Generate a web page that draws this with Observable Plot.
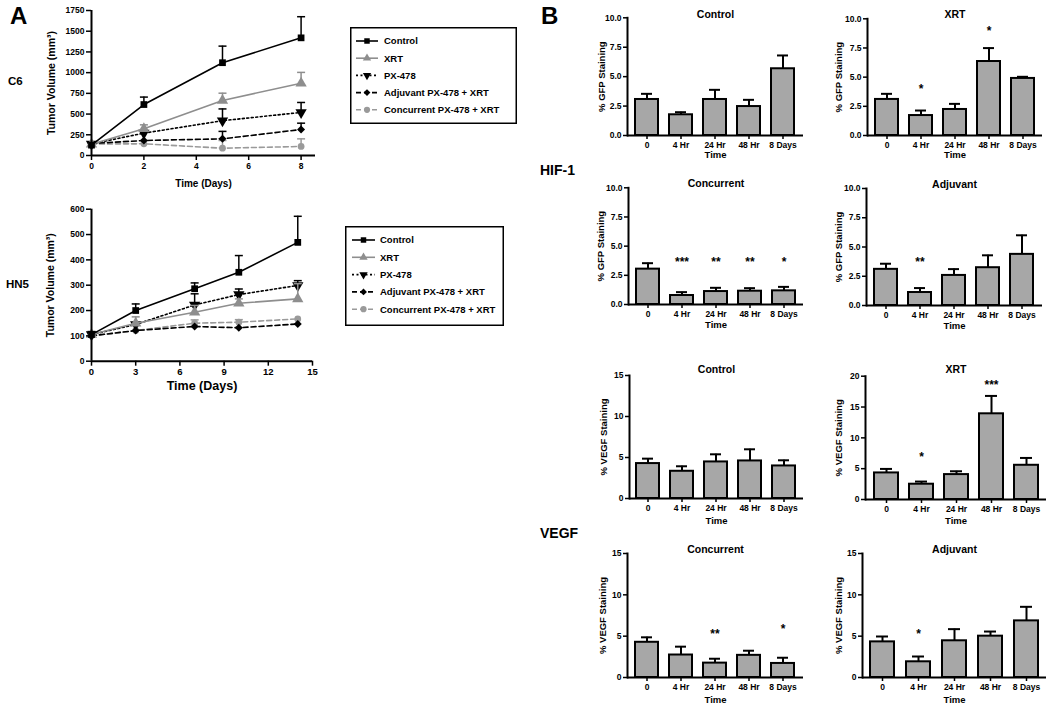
<!DOCTYPE html>
<html><head><meta charset="utf-8">
<script src="https://cdn.jsdelivr.net/npm/d3@7"></script>
<script src="https://cdn.jsdelivr.net/npm/@observablehq/plot@0.6"></script>
<style>
body{margin:0;background:#fff;}
#fig{position:relative;width:1050px;height:711px;overflow:hidden;background:#fff;font-family:"Liberation Sans",Arial,sans-serif;font-weight:bold;color:#000;}
.lbl{position:absolute;font-weight:bold;white-space:nowrap;line-height:1;}
</style></head><body><div id="fig"></div>
<script>
// ---------------- DATA ----------------
// Panel A – tumour growth curves
const seriesNames = ["Control", "XRT", "PX-478", "Adjuvant PX-478 + XRT", "Concurrent PX-478 + XRT"];

const c6Days = [0, 2, 5, 8];
const c6Control    = [125, 615, 1120, 1420];
const c6ControlSem = [0, 90, 200, 255];
const c6Xrt        = [135, 322, 664, 873];
const c6XrtSem     = [0, 48, 88, 130];
const c6Px         = [140, 270, 420, 520];
const c6PxSem      = [0, 0, 142, 120];
const c6Adj        = [145, 181, 201, 314];
const c6AdjSem     = [0, 0, 90, 76];
const c6Conc       = [140, 141, 88, 109];
const c6ConcSem    = [0, 0, 93, 92];

const hn5Days = [0, 3, 7, 10, 14];
const hn5Control    = [105, 200, 286, 351, 469];
const hn5ControlSem = [12, 26, 23, 66, 103];
const hn5Xrt        = [105, 150, 193, 229, 246];
const hn5XrtSem     = [0, 25, 27, 17, 60];
const hn5Px         = [105, 145, 222, 263, 299];
const hn5PxSem      = [0, 0, 44, 22, 19];
const hn5Adj        = [100, 121, 137, 132, 147];
const hn5AdjSem     = [0, 0, 0, 0, 0];
const hn5Conc       = [100, 121, 150, 154, 167];
const hn5ConcSem    = [0, 0, 13, 10, 0];

// Panel B – staining bar charts
const timeLabels = ["0", "4 Hr", "24 Hr", "48 Hr", "8 Days"];

const hifControl    = [3.06, 1.76, 3.06, 2.46, 5.67];
const hifControlSem = [0.48, 0.22, 0.82, 0.57, 1.13];
const hifControlStars = ["", "", "", "", ""];
const hifControlStarY = [null, null, null, null, null];

const hifXrt    = [3.09, 1.71, 2.23, 6.34, 4.89];
const hifXrtSem = [0.48, 0.43, 0.48, 1.15, 0.14];
const hifXrtStars = ["", "*", "", "*", ""];
const hifXrtStarY = [null, 4.2, null, 9.2, null];

const hifConc    = [3.03, 0.77, 1.11, 1.14, 1.17];
const hifConcSem = [0.51, 0.29, 0.32, 0.26, 0.34];
const hifConcStars = ["", "***", "**", "**", "*"];
const hifConcStarY = [null, 3.9, 3.9, 3.9, 3.9];

const hifAdj    = [3.09, 1.11, 2.57, 3.23, 4.37];
const hifAdjSem = [0.48, 0.38, 0.54, 1.06, 1.63];
const hifAdjStars = ["", "**", "", "", ""];
const hifAdjStarY = [null, 4.0, null, null, null];

const vegfControl    = [4.26, 3.32, 4.46, 4.58, 3.97];
const vegfControlSem = [0.60, 0.61, 0.93, 1.42, 0.69];
const vegfControlStars = ["", "", "", "", ""];
const vegfControlStarY = [null, null, null, null, null];

const vegfXrt    = [4.31, 2.48, 4.04, 13.9, 5.55];
const vegfXrtSem = [0.65, 0.43, 0.54, 2.9, 1.19];
const vegfXrtStars = ["", "*", "", "***", ""];
const vegfXrtStarY = [null, 7.4, null, 19.0, null];

const vegfConc    = [4.26, 2.72, 1.74, 2.68, 1.70];
const vegfConcSem = [0.60, 1.01, 0.53, 0.56, 0.69];
const vegfConcStars = ["", "", "**", "", "*"];
const vegfConcStarY = [null, null, 5.6, null, 6.2];

const vegfAdj    = [4.31, 1.90, 4.44, 5.00, 6.85];
const vegfAdjSem = [0.65, 0.64, 1.41, 0.56, 1.70];
const vegfAdjStars = ["", "*", "", "", ""];
const vegfAdjStarY = [null, 5.56, null, null, null];

// ---------------- STYLES ----------------
const FONT = "'Liberation Sans', Arial, Helvetica, sans-serif";
const GREY = "#8e8e8e";
const BAR_FILL = "#a7a7a7";
const seriesStyle = [
  {color: "#000", dash: null,  symbol: "square",   r: 3.8, rotate: 0,   legendSym: d3.symbolSquare,   legendRot: 0},
  {color: GREY,   dash: null,  symbol: "triangle", r: 4.2, rotate: 0,   legendSym: d3.symbolTriangle, legendRot: 0},
  {color: "#000", dash: "2,2.5", symbol: "triangle", r: 4.2, rotate: 180, legendSym: d3.symbolTriangle, legendRot: 180},
  {color: "#000", dash: "5,3", symbol: "diamond2", r: 3.6, rotate: 0,   legendSym: d3.symbolDiamond2, legendRot: 0},
  {color: "#9a9a9a", dash: "5,3", symbol: "circle", r: 3.4, rotate: 0,  legendSym: d3.symbolCircle,   legendRot: 0}
];
const capSymbol = {draw(ctx, size) { const w = Math.sqrt(size / Math.PI); ctx.moveTo(-w, 0); ctx.lineTo(w, 0); }};

const fig = document.getElementById("fig");
function place(el, left, top) {
  el.style.position = "absolute";
  el.style.left = left + "px";
  el.style.top = top + "px";
  el.style.overflow = "visible";
  fig.appendChild(el);
}
function label(text, left, top, size) {
  const d = document.createElement("div");
  d.className = "lbl";
  d.textContent = text;
  d.style.left = left + "px";
  d.style.top = top + "px";
  d.style.fontSize = size + "px";
  fig.appendChild(d);
}
const svgStyle = `font-family:${FONT};font-weight:bold;overflow:visible;background:transparent;`;

// ---------------- LINE CHARTS ----------------
function lineChart(o) {
  const mL = o.ax0 - o.left, mR = o.left + o.width - o.ax1;
  const mT = o.yTop - o.top, mB = o.top + o.height - o.yBot;
  const marks = [];
  o.values.forEach((vals, k) => {
    const s = seriesStyle[k];
    const rows = o.days.map((d, i) => ({d, v: vals[i], hi: vals[i] + o.sems[k][i], sem: o.sems[k][i]}));
    const err = rows.filter(r => r.sem > 0);
    marks.push(Plot.ruleX(err, {x: "d", y1: "v", y2: "hi", stroke: s.color, strokeWidth: 1.5}));
    marks.push(Plot.dot(err, {x: "d", y: "hi", symbol: capSymbol, r: 4, stroke: s.color, strokeWidth: 1.5, fill: "none"}));
    marks.push(Plot.line(rows, {x: "d", y: "v", stroke: s.color, strokeWidth: 1.6, strokeDasharray: s.dash}));
    marks.push(Plot.dot(rows, {x: "d", y: "v", symbol: s.symbol, r: s.r, fill: s.color, stroke: "none", rotate: s.rotate}));
  });
  marks.reverse();
  marks.push(
    Plot.ruleX([0], {strokeWidth: 2}),
    Plot.ruleY([0], {strokeWidth: 2}),
    Plot.axisX({ticks: o.xTicks, tickSize: 5, tickPadding: 2, strokeWidth: 1.5, fontSize: o.xTickFont, tickFormat: "d", label: null}),
    Plot.axisY({ticks: o.yTicks, tickSize: 5, tickPadding: 2, strokeWidth: 1.5, fontSize: o.yTickFont, tickFormat: "d", label: null}),
    Plot.text([o.xTitle], {text: d => d, frameAnchor: "bottom", textAnchor: "middle", dy: o.xTitleDy, fontSize: o.xTitleFont, fontWeight: "bold"}),
    Plot.text([o.yTitle], {text: d => d, frameAnchor: "left", textAnchor: "middle", dx: -o.yTitleOffset, rotate: -90, fontSize: o.yTitleFont, fontWeight: "bold"})
  );
  const p = Plot.plot({
    width: o.width, height: o.height,
    marginLeft: mL, marginRight: mR, marginTop: mT, marginBottom: mB,
    x: {domain: o.xDomain, label: null},
    y: {domain: o.yDomain, label: null},
    style: svgStyle,
    marks
  });
  place(p, o.left, o.top);
}

lineChart({
  left: 0, top: 0, width: 330, height: 200,
  ax0: 91, ax1: 315, yTop: 10, yBot: 155,
  xDomain: [0, 8.55], yDomain: [0, 1750],
  xTicks: [0, 2, 4, 6, 8], yTicks: [0, 250, 500, 750, 1000, 1250, 1500, 1750],
  days: c6Days,
  values: [c6Control, c6Xrt, c6Px, c6Adj, c6Conc],
  sems: [c6ControlSem, c6XrtSem, c6PxSem, c6AdjSem, c6ConcSem],
  xTickFont: 8.5, yTickFont: 8.5,
  xTitle: "Time (Days)", xTitleDy: 31, xTitleFont: 10,
  yTitle: "Tumor Volume (mm³)", yTitleOffset: 40, yTitleFont: 10.5
});

lineChart({
  left: 0, top: 200, width: 330, height: 200,
  ax0: 91, ax1: 312, yTop: 208.7, yBot: 360.7,
  xDomain: [0, 15], yDomain: [0, 600],
  xTicks: [0, 3, 6, 9, 12, 15], yTicks: [0, 100, 200, 300, 400, 500, 600],
  days: hn5Days,
  values: [hn5Control, hn5Xrt, hn5Px, hn5Adj, hn5Conc],
  sems: [hn5ControlSem, hn5XrtSem, hn5PxSem, hn5AdjSem, hn5ConcSem],
  xTickFont: 9.5, yTickFont: 8.5,
  xTitle: "Time (Days)", xTitleDy: 29, xTitleFont: 12.5,
  yTitle: "Tumor Volume (mm³)", yTitleOffset: 41, yTitleFont: 10.5
});

// ---------------- LEGENDS ----------------
function legend(o) {
  const svg = d3.create("svg").attr("width", o.width).attr("height", o.height)
    .attr("style", svgStyle).attr("font-size", o.font);
  svg.append("rect").attr("x", 0.75).attr("y", 0.75).attr("width", o.width - 1.5).attr("height", o.height - 1.5)
    .attr("fill", "none").attr("stroke", "#000").attr("stroke-width", 1.5);
  seriesNames.forEach((name, i) => {
    const s = seriesStyle[i];
    const y = o.firstRow + i * o.rowStep;
    svg.append("line").attr("x1", o.lineX0).attr("x2", o.lineX1).attr("y1", y).attr("y2", y)
      .attr("stroke", s.color).attr("stroke-width", 1.6).attr("stroke-dasharray", s.dash);
    svg.append("path").attr("d", d3.symbol(s.legendSym, 30)())
      .attr("transform", `translate(${(o.lineX0 + o.lineX1) / 2},${y}) rotate(${s.legendRot})`)
      .attr("fill", s.color);
    svg.append("text").attr("x", o.textX).attr("y", y).attr("dy", "0.35em").text(name);
  });
  place(svg.node(), o.left, o.top);
}
legend({left: 350, top: 27, width: 167, height: 97, firstRow: 14, rowStep: 17.2, lineX0: 6, lineX1: 28, textX: 34, font: 9.5});
legend({left: 345, top: 226, width: 159, height: 100, firstRow: 14, rowStep: 17.3, lineX0: 7, lineX1: 30, textX: 35, font: 9.5});

// ---------------- BAR CHARTS ----------------
function barChart(o) {
  const mL = o.ax0 - o.left, mR = o.left + o.width - o.ax1;
  const mT = o.yTop - o.top, mB = o.top + o.height - o.yBot;
  const rows = timeLabels.map((t, i) => ({t, v: o.v[i], hi: o.v[i] + o.sem[i], star: o.stars[i], sy: o.starY[i]}));
  const starRows = rows.filter(r => r.star);
  const p = Plot.plot({
    width: o.width, height: o.height,
    marginLeft: mL, marginRight: mR, marginTop: mT, marginBottom: mB,
    x: {domain: timeLabels, paddingInner: 0.32, paddingOuter: 0.2, label: null},
    y: {domain: [0, o.yMax], label: null},
    style: svgStyle,
    marks: [
      Plot.ruleX(rows, {x: "t", y1: "v", y2: "hi", strokeWidth: 2}),
      Plot.tickY(rows, {x: "t", y: "hi", strokeWidth: 2, insetLeft: 6, insetRight: 6}),
      Plot.barY(rows, {x: "t", y: "v", fill: BAR_FILL, stroke: "#000", strokeWidth: 2}),
      Plot.text(starRows, {x: "t", y: "sy", text: "star", fontSize: 12, dy: 3, fontWeight: "bold"}),
      Plot.ruleY([0], {strokeWidth: 2}),
      Plot.frame({anchor: "left", strokeWidth: 2}),
      Plot.axisX({tickSize: 4, tickPadding: 2, strokeWidth: 1.5, fontSize: 8.5, label: null}),
      Plot.axisY({ticks: o.yTicks, tickSize: 4, tickPadding: 2, strokeWidth: 1.5, fontSize: 8.5, tickFormat: o.yFormat, label: null}),
      Plot.text([o.title], {text: d => d, frameAnchor: "top", textAnchor: "middle", dy: o.titleY - o.yTop, fontSize: 10.5, fontWeight: "bold"}),
      Plot.text(["Time"], {text: d => d, frameAnchor: "bottom", textAnchor: "middle", dy: o.timeY - o.yBot, fontSize: 9.5, fontWeight: "bold"}),
      Plot.text([o.yTitle], {text: d => d, frameAnchor: "left", textAnchor: "middle", dx: o.yTitleX - o.ax0, rotate: -90, fontSize: 9.5, fontWeight: "bold"})
    ]
  });
  place(p, o.left, o.top);
}

const hifTicks = [0, 2.5, 5, 7.5, 10];
const vegfTicks15 = [0, 5, 10, 15];
const vegfTicks20 = [0, 5, 10, 15, 20];

barChart({left: 540, top: 0, width: 270, height: 165, ax0: 627, ax1: 803, yTop: 17.3, yBot: 135,
  yMax: 10, yTicks: hifTicks, yFormat: ".1f", title: "Control", titleY: 10, timeY: 157,
  yTitle: "% GFP Staining", yTitleX: 601, v: hifControl, sem: hifControlSem, stars: hifControlStars, starY: hifControlStarY});
barChart({left: 790, top: 0, width: 260, height: 165, ax0: 867, ax1: 1042, yTop: 18.3, yBot: 135,
  yMax: 10, yTicks: hifTicks, yFormat: ".1f", title: "XRT", titleY: 10, timeY: 157,
  yTitle: "% GFP Staining", yTitleX: 838, v: hifXrt, sem: hifXrtSem, stars: hifXrtStars, starY: hifXrtStarY});
barChart({left: 540, top: 170, width: 270, height: 165, ax0: 628, ax1: 803, yTop: 187.3, yBot: 304,
  yMax: 10, yTicks: hifTicks, yFormat: ".1f", title: "Concurrent", titleY: 179, timeY: 327,
  yTitle: "% GFP Staining", yTitleX: 600, v: hifConc, sem: hifConcSem, stars: hifConcStars, starY: hifConcStarY});
barChart({left: 790, top: 170, width: 260, height: 165, ax0: 866, ax1: 1042, yTop: 188, yBot: 305,
  yMax: 10, yTicks: hifTicks, yFormat: ".1f", title: "Adjuvant", titleY: 180, timeY: 328,
  yTitle: "% GFP Staining", yTitleX: 838, v: hifAdj, sem: hifAdjSem, stars: hifAdjStars, starY: hifAdjStarY});

barChart({left: 540, top: 355, width: 270, height: 175, ax0: 629, ax1: 803, yTop: 375, yBot: 498,
  yMax: 15, yTicks: vegfTicks15, yFormat: "d", title: "Control", titleY: 365, timeY: 523,
  yTitle: "% VEGF Staining", yTitleX: 603, v: vegfControl, sem: vegfControlSem, stars: vegfControlStars, starY: vegfControlStarY});
barChart({left: 790, top: 355, width: 260, height: 175, ax0: 865, ax1: 1046, yTop: 375.7, yBot: 499,
  yMax: 20, yTicks: vegfTicks20, yFormat: "d", title: "XRT", titleY: 365, timeY: 523,
  yTitle: "% VEGF Staining", yTitleX: 838, v: vegfXrt, sem: vegfXrtSem, stars: vegfXrtStars, starY: vegfXrtStarY});
barChart({left: 540, top: 535, width: 270, height: 176, ax0: 627, ax1: 803, yTop: 553, yBot: 677,
  yMax: 15, yTicks: vegfTicks15, yFormat: "d", title: "Concurrent", titleY: 545, timeY: 702,
  yTitle: "% VEGF Staining", yTitleX: 602, v: vegfConc, sem: vegfConcSem, stars: vegfConcStars, starY: vegfConcStarY});
barChart({left: 790, top: 535, width: 260, height: 176, ax0: 862, ax1: 1046, yTop: 553, yBot: 677,
  yMax: 15, yTicks: vegfTicks15, yFormat: "d", title: "Adjuvant", titleY: 545, timeY: 702,
  yTitle: "% VEGF Staining", yTitleX: 838, v: vegfAdj, sem: vegfAdjSem, stars: vegfAdjStars, starY: vegfAdjStarY});

// ---------------- PANEL LABELS ----------------
label("A", 10, 4, 24);
label("B", 541, 4, 24);
label("C6", 8, 76, 11.5);
label("HN5", 6, 279, 11.5);
label("HIF-1", 540, 163, 14);
label("VEGF", 540, 526, 14);
</script></body></html>
